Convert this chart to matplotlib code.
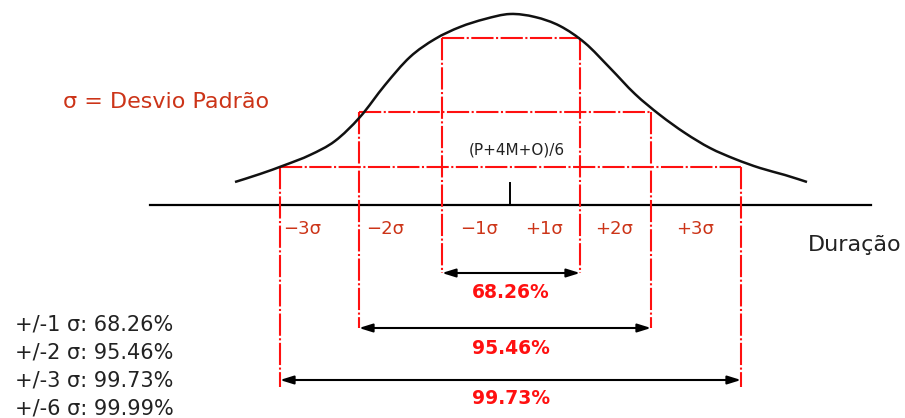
import numpy as np
import matplotlib.pyplot as plt
from matplotlib.path import Path
from matplotlib.patches import PathPatch

plt.rcParams['font.family'] = ['DejaVu Sans']
plt.rcParams['lines.scale_dashes'] = False

# ============================================================
# Data (x relative to the mean, h = height above axis)
# ============================================================

curve_x = [-275, -250, -225, -200, -175, -150, -125, -100, -75, -50, -25, 0,
           25, 50, 75, 100, 125, 150, 175, 200, 225, 250, 275, 297]
curve_h = [23, 31, 40, 50, 64, 88, 120, 148, 166, 178, 186, 191,
           188, 179, 162, 137, 111, 90, 72, 57, 46, 37, 30, 23]

sigma_k = [1, 2, 3]
sigma_left = [-68, -151, -230]
sigma_right = [70, 141, 231]
sigma_level = [167, 93, 38]

sigma_labels = ["\u22123\u03c3", "\u22122\u03c3", "\u22121\u03c3",
                "+1\u03c3", "+2\u03c3", "+3\u03c3"]
pct_labels = ["68.26%", "95.46%", "99.73%"]
summary = ["+/-1 \u03c3: 68.26%", "+/-2 \u03c3: 95.46%",
           "+/-3 \u03c3: 99.73%", "+/-6 \u03c3: 99.99%"]

RED = "#ff1010"
DARK_RED = "#cc3418"
DASH = (0, (16, 1.8, 1.5, 1.8))

fig = plt.figure(figsize=(9.05, 4.18), dpi=100)
ax = fig.add_axes([0, 0, 1, 1])
ax.set_xlim(-510, 395)
ax.set_ylim(-213, 205)
ax.axis("off")

# axis line and the mean tick
ax.plot([-360, 361], [0, 0], color="black", lw=1.6)
ax.plot([0, 0], [0, 22], color="black", lw=1.4)

# bell curve: cubic path through the read points (Catmull-Rom tangents)
pts = np.column_stack([curve_x, curve_h]).astype(float)
verts = [pts[0]]
codes = [Path.MOVETO]
for i in range(len(pts) - 1):
    p0 = pts[max(i - 1, 0)]
    p1, p2 = pts[i], pts[i + 1]
    p3 = pts[min(i + 2, len(pts) - 1)]
    verts += [p1 + (p2 - p0) / 6, p2 - (p3 - p1) / 6, p2]
    codes += [Path.CURVE4] * 3
ax.add_patch(PathPatch(Path(verts, codes), facecolor="none",
                       edgecolor="#111111", lw=1.8, zorder=3))

# sigma boxes: horizontal at the curve level, verticals down to the arrows
arrow_h = [-68, -123, -175]
vert_bottom = [-68, -123, -182]
pct_h = [-88, -143, -194]
for xl, xr, lev, ah, vb, ph, pct in zip(sigma_left, sigma_right, sigma_level,
                                        arrow_h, vert_bottom, pct_h, pct_labels):
    ax.plot([xl, xr], [lev, lev], color=RED, lw=1.5, linestyle=DASH, zorder=2)
    ax.plot([xl, xl], [lev, vb], color=RED, lw=1.5, linestyle=DASH, zorder=2)
    ax.plot([xr, xr], [lev, vb], color=RED, lw=1.5, linestyle=DASH, zorder=2)
    ax.annotate("", xy=(xr, ah), xytext=(xl, ah),
                arrowprops=dict(arrowstyle="<|-|>,head_length=0.8,head_width=0.25",
                                color="black", lw=1.5, shrinkA=0, shrinkB=0))
    ax.text(1, ph, pct, color=RED, fontsize=13.5, fontweight="bold",
            ha="center", va="center")

# sigma labels under the axis
label_pos = sigma_left[::-1] + sigma_right
label_dx = [22, 26, 37, -36, -37, -46]
for x, dx, lab in zip(label_pos, label_dx, sigma_labels):
    ax.text(x + dx, -24, lab, color=DARK_RED, fontsize=13,
            ha="center", va="center")

ax.text(7, 55, "(P+4M+O)/6", color="#222222", fontsize=11,
        ha="center", va="center")
ax.text(298, -40, "Dura\u00e7\u00e3o", color="#222222", fontsize=16,
        ha="left", va="center")
ax.text(-447, 103, "\u03c3 = Desvio Padr\u00e3o", color=DARK_RED, fontsize=16,
        ha="left", va="center")

for i, line in enumerate(summary):
    ax.text(-495, -120 - 27.7 * i, line, color="#222222", fontsize=15,
            ha="left", va="center")

fig.savefig("out.png", dpi=100)
plt.close(fig)
